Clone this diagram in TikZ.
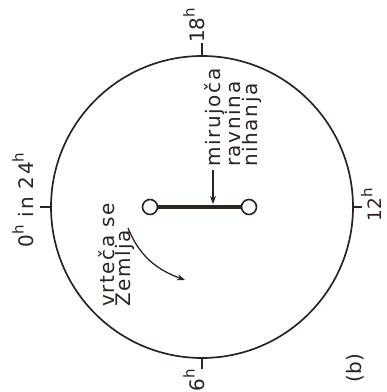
\documentclass[tikz,border=0pt]{standalone}
\usepackage{fontspec}
\setmainfont{DejaVu Sans}
\newfontfamily\widefont{DejaVu Sans}[LetterSpace=8]
\usetikzlibrary{arrows.meta, positioning, calc}
\definecolor{ink}{RGB}{45,35,30}
\newcommand{\hrs}{\raisebox{0.5em}{\fontsize{15}{15}\selectfont h}}

\begin{document}
\begin{tikzpicture}[x=1pt, y=1pt,
  lbl/.style={rotate=90, inner sep=0pt, text=ink, font=\fontsize{20}{16.5}\selectfont, align=left},
  words/.style={lbl, font=\fontsize{20}{16.5}\selectfont\widefont},
  bob/.style={circle, draw=ink, line width=1.6pt, fill=white, minimum size=15pt, inner sep=0pt},
  tick/.style={draw=ink, line width=1.7pt},
  pointer/.style={draw=ink, line width=1.3pt, -{Stealth[length=8pt, width=6pt]}}]
  \useasboundingbox (0,0) rectangle (387,392);

  % Dial
  \node[circle, draw=ink, line width=1.7pt, minimum size=302pt, inner sep=0pt] (dial) at (202,185) {};
  \draw[tick] (dial.north) -- ++(0,12) coordinate (t18);
  \draw[tick] (dial.south) -- ++(0,-10) coordinate (t6);
  \draw[tick] (dial.east) -- ++(8,0) coordinate (t12);
  \draw[tick] (dial.west) -- ++(-10,0) coordinate (t0);

  % Hours
  \node[lbl, anchor=mid west] (h18) at (t18) {18\hrs};
  \node[lbl, anchor=mid east] (h6) at (t6) {6\hrs};
  \node[lbl, anchor=north, font=\fontsize{18.5}{16.5}\selectfont] (h12) at ($(t12)+(-1,2)$) {12\hrs};
  \node[words, anchor=south] (h0) at ($(t0)+(-6,7)$) {0\hrs{} in 24\hrs};

  % Pendulum
  \node[bob] (lb) at (150,185) {};
  \node[bob] (rb) at (249,185) {};
  \draw[ink, line width=3.2pt] (lb) -- (rb);

  % Plane of swing
  \coordinate (ms) at (213,222);
  \coordinate (rp) at (213,188);
  \draw[pointer] (ms) -- (rp);
  \node[words, anchor=north west] (plane) at (204,225) {mirujoča\\ravnina\\nihanja};

  % Rotation
  \node[words, anchor=north west] (spin) at (98,85) {vrteča se\\Zemlja};
  \coordinate (s1) at (128,164);
  \coordinate (s2) at (185,112);
  \draw[pointer] (s1) to[out=-68, in=160] (s2);

  \node[lbl] (tag) at (355,24) {(b)};
\end{tikzpicture}
\end{document}
